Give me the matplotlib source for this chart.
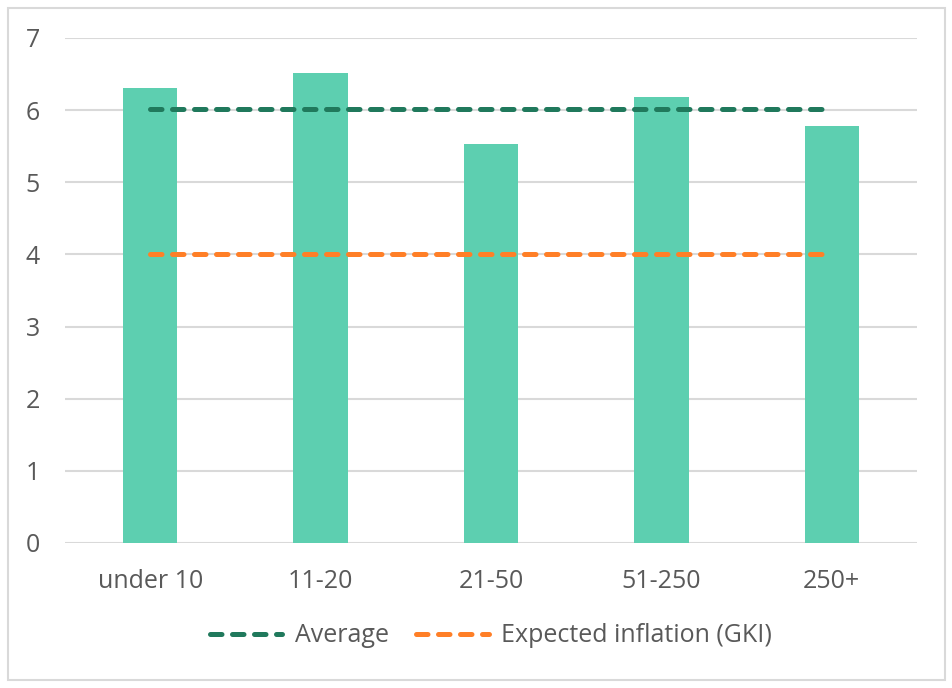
import matplotlib.pyplot as plt
from matplotlib.patches import Rectangle

# adatok
categories = ['under 10', '11-20', '21-50', '51-250', '250+']
values = [6.31, 6.51, 5.53, 6.18, 5.78]
average = 6.02
inflation = 4.0
y_ticks = [0, 1, 2, 3, 4, 5, 6, 7]

plt.rcParams['font.family'] = ['Open Sans', 'DejaVu Sans']

fig = plt.figure(figsize=(9.53, 6.88), dpi=100)
ax = fig.add_axes([0.0682, 0.2108, 0.894, 0.734])

x = list(range(len(categories)))
ax.bar(x, values, width=0.32, color='#5dcfb0', zorder=2)

ax.plot([x[0], x[-1]], [average, average], color='#20795c', lw=3.6,
        dashes=(2.3, 2.1), dash_capstyle='round', label='Average', zorder=3)
ax.plot([x[0], x[-1]], [inflation, inflation], color='#ff7f27', lw=3.6,
        dashes=(2.3, 2.1), dash_capstyle='round', label='Expected inflation (GKI)', zorder=3)

ax.set_xlim(-0.5, len(categories) - 0.5)
ax.set_ylim(0, 7)
ax.set_yticks(y_ticks)
ax.set_xticks(x)
ax.set_xticklabels(categories)
ax.grid(axis='y', color='#d9d9d9', lw=1.5, zorder=0)
ax.set_axisbelow(True)
for s in ax.spines.values():
    s.set_visible(False)
ax.tick_params(length=0, labelsize=18, colors='#595959')
ax.tick_params(axis='x', pad=19)
ax.tick_params(axis='y', pad=18)

leg = fig.legend(loc='center', bbox_to_anchor=(0.515, 1 - 636 / 688), ncol=2,
                 frameon=False, fontsize=18, handlelength=2.9, columnspacing=1.1,
                 handletextpad=0.5)
for t in leg.get_texts():
    t.set_color('#595959')

# keret
fig.patches.append(Rectangle((8 / 953, 8 / 688), 937 / 953, 672 / 688,
                             transform=fig.transFigure, fill=False,
                             edgecolor='#d9d9d9', lw=1.5))

fig.savefig('out.png', dpi=100)
